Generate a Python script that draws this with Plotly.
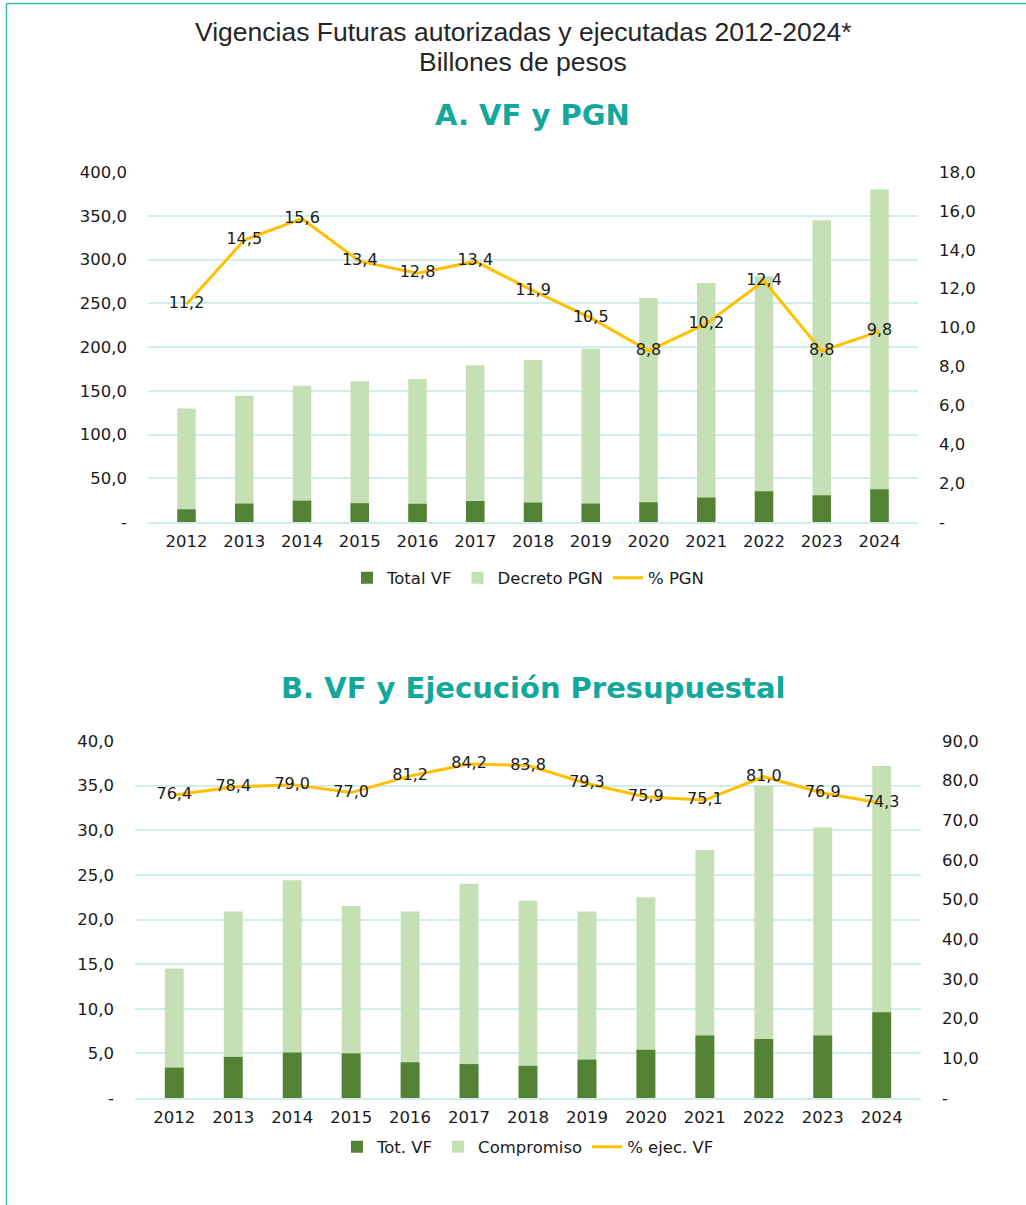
import plotly.graph_objects as go

years = ["2012", "2013", "2014", "2015", "2016", "2017", "2018",
         "2019", "2020", "2021", "2022", "2023", "2024"]

# Panel A: VF y PGN (billones de pesos)
total_vf_a = [14.5, 21.0, 24.4, 21.5, 20.8, 24.0, 22.2, 21.0, 22.5, 27.9, 35.1, 30.5, 37.4]
decreto_pgn = [129.6, 144.4, 155.8, 160.8, 163.5, 179.1, 185.2, 198.1, 256.0, 273.2, 280.8, 344.8, 380.2]
pct_pgn = [11.2, 14.5, 15.6, 13.4, 12.8, 13.4, 11.9, 10.5, 8.8, 10.2, 12.4, 8.8, 9.8]

# Panel B: VF y Ejecución Presupuestal
tot_vf_b = [3.4, 4.6, 5.1, 5.0, 4.0, 3.8, 3.6, 4.3, 5.4, 7.0, 6.6, 7.0, 9.6]
compromiso = [14.5, 20.9, 24.4, 21.5, 20.9, 24.0, 22.1, 20.9, 22.5, 27.8, 35.0, 30.3, 37.2]
pct_ejec = [76.4, 78.4, 79.0, 77.0, 81.2, 84.2, 83.8, 79.3, 75.9, 75.1, 81.0, 76.9, 74.3]

ticks_a_left = [0, 50, 100, 150, 200, 250, 300, 350, 400]
ticks_a_right = [0, 2, 4, 6, 8, 10, 12, 14, 16, 18]
ticks_b_left = [0, 5, 10, 15, 20, 25, 30, 35, 40]
ticks_b_right = [0, 10, 20, 30, 40, 50, 60, 70, 80, 90]

title_lines = ["Vigencias Futuras autorizadas y ejecutadas 2012-2024*", "Billones de pesos"]
subtitle_a = "A. VF y PGN"
subtitle_b = "B. VF y Ejecución Presupuestal"


def fmt(v):
    return "-" if v == 0 else f"{v:.1f}".replace(".", ",")


DARK = "#548235"
LIGHT = "#C5E0B4"
GOLD = "#FFC000"
TEAL = "#14A89D"
GRID = "#D2EEEC"
FONT = "DejaVu Sans, Verdana, sans-serif"
TFONT = "Liberation Sans, Arial, sans-serif"
TXT = "#1a1a1a"

W, H = 1026, 1205


def px_x(x):
    return x / W


def px_y(y):
    return 1 - y / H


fig = go.Figure()

# Panel A
fig.add_trace(go.Bar(x=years, y=decreto_pgn, name="Decreto PGN", marker_color=LIGHT,
                     width=0.32, xaxis="x", yaxis="y", legend="legend", legendrank=2,
                     marker_line_width=0))
fig.add_trace(go.Bar(x=years, y=total_vf_a, name="Total VF", marker_color=DARK,
                     width=0.32, xaxis="x", yaxis="y", legend="legend", legendrank=1,
                     marker_line_width=0))
fig.add_trace(go.Scatter(x=years, y=pct_pgn, name="% PGN", mode="lines+text",
                         line=dict(color=GOLD, width=3), text=[fmt(v) for v in pct_pgn],
                         textposition="middle center",
                         textfont=dict(family=FONT, size=16, color=TXT),
                         xaxis="x", yaxis="y2", legend="legend", legendrank=3,
                         cliponaxis=False))

# Panel B
fig.add_trace(go.Bar(x=years, y=compromiso, name="Compromiso", marker_color=LIGHT,
                     width=0.32, xaxis="x2", yaxis="y3", legend="legend2", legendrank=2,
                     marker_line_width=0))
fig.add_trace(go.Bar(x=years, y=tot_vf_b, name="Tot. VF", marker_color=DARK,
                     width=0.32, xaxis="x2", yaxis="y3", legend="legend2", legendrank=1,
                     marker_line_width=0))
fig.add_trace(go.Scatter(x=years, y=pct_ejec, name="% ejec. VF", mode="lines+text",
                         line=dict(color=GOLD, width=3), text=[fmt(v) for v in pct_ejec],
                         textposition="middle center",
                         textfont=dict(family=FONT, size=16, color=TXT),
                         xaxis="x2", yaxis="y4", legend="legend2", legendrank=3,
                         cliponaxis=False))

tickfont = dict(family=FONT, size=16.5, color=TXT)


def yax(domain, ticks, side="left", overlaying=None, anchor=None, grid=True):
    d = dict(domain=domain, range=[0, ticks[-1]], tickvals=ticks,
             ticktext=[fmt(v) for v in ticks], tickfont=tickfont,
             showgrid=grid, gridcolor=GRID, gridwidth=1.5, zeroline=False,
             showline=False, ticks="", side=side, ticklabelstandoff=20,
             fixedrange=True, automargin=False)
    if overlaying:
        d["overlaying"] = overlaying
    if anchor:
        d["anchor"] = anchor
    return d


dom_ax = [px_x(148), px_x(918)]
dom_ay = [px_y(522), px_y(172)]
dom_bx = [px_x(135), px_x(921)]
dom_by = [px_y(1098), px_y(741)]

xa = dict(type="category", showgrid=False, showline=True, linecolor=GRID, linewidth=1.5,
          ticks="", tickfont=tickfont, ticklabelstandoff=3, zeroline=False,
          fixedrange=True, automargin=False)

legfont = dict(family=FONT, size=16.5, color=TXT)

fig.update_layout(
    width=W, height=H,
    margin=dict(l=0, r=0, t=0, b=0, pad=0, autoexpand=False),
    paper_bgcolor="white", plot_bgcolor="white",
    barmode="overlay",
    font=dict(family=FONT, size=17, color=TXT),
    xaxis=dict(domain=dom_ax, anchor="y", **xa),
    yaxis=yax(dom_ay, ticks_a_left, anchor="x"),
    yaxis2=yax(dom_ay, ticks_a_right, side="right", overlaying="y", anchor="x", grid=False),
    xaxis2=dict(domain=dom_bx, anchor="y3", **xa),
    yaxis3=yax(dom_by, ticks_b_left, anchor="x2"),
    yaxis4=yax(dom_by, ticks_b_right, side="right", overlaying="y3", anchor="x2", grid=False),
    legend=dict(orientation="h", x=px_x(528), xanchor="center", y=px_y(578), yanchor="middle",
                font=legfont, traceorder="normal",
                itemwidth=30, bgcolor="rgba(0,0,0,0)"),
    legend2=dict(orientation="h", x=px_x(528), xanchor="center", y=px_y(1147), yanchor="middle",
                 font=legfont, traceorder="normal",
                 itemwidth=30, bgcolor="rgba(0,0,0,0)"),
    showlegend=True,
)

annotations = [
    dict(text=title_lines[0], x=px_x(523), y=px_y(32), xref="paper", yref="paper",
         showarrow=False, font=dict(family=TFONT, size=26.5, color="#262626"),
         xanchor="center", yanchor="middle"),
    dict(text=title_lines[1], x=px_x(523), y=px_y(62), xref="paper", yref="paper",
         showarrow=False, font=dict(family=TFONT, size=26.5, color="#262626"),
         xanchor="center", yanchor="middle"),
    dict(text=f"<b>{subtitle_a}</b>", x=px_x(532), y=px_y(115), xref="paper", yref="paper",
         showarrow=False, font=dict(family="DejaVu Sans, Verdana, sans-serif", size=29, color=TEAL),
         xanchor="center", yanchor="middle"),
    dict(text=f"<b>{subtitle_b}</b>", x=px_x(533), y=px_y(688), xref="paper", yref="paper",
         showarrow=False, font=dict(family="DejaVu Sans, Verdana, sans-serif", size=29, color=TEAL),
         xanchor="center", yanchor="middle"),
]
fig.update_layout(annotations=annotations)

border = "#3DB8AE"
fig.update_layout(shapes=[
    dict(type="line", xref="paper", yref="paper", x0=px_x(6.5), x1=px_x(6.5),
         y0=0, y1=px_y(3.5), line=dict(color=border, width=1.5)),
    dict(type="line", xref="paper", yref="paper", x0=px_x(6.5), x1=1,
         y0=px_y(3.5), y1=px_y(3.5), line=dict(color=border, width=1.5)),
])

css_js = (
    "var s=document.createElement('style');"
    "s.textContent='html,body{margin:0!important;padding:0!important;overflow:hidden!important;}';"
    "document.head.appendChild(s);"
)

fig.write_html(
    "out.html",
    config={"displayModeBar": False},
    post_script=css_js,
)
